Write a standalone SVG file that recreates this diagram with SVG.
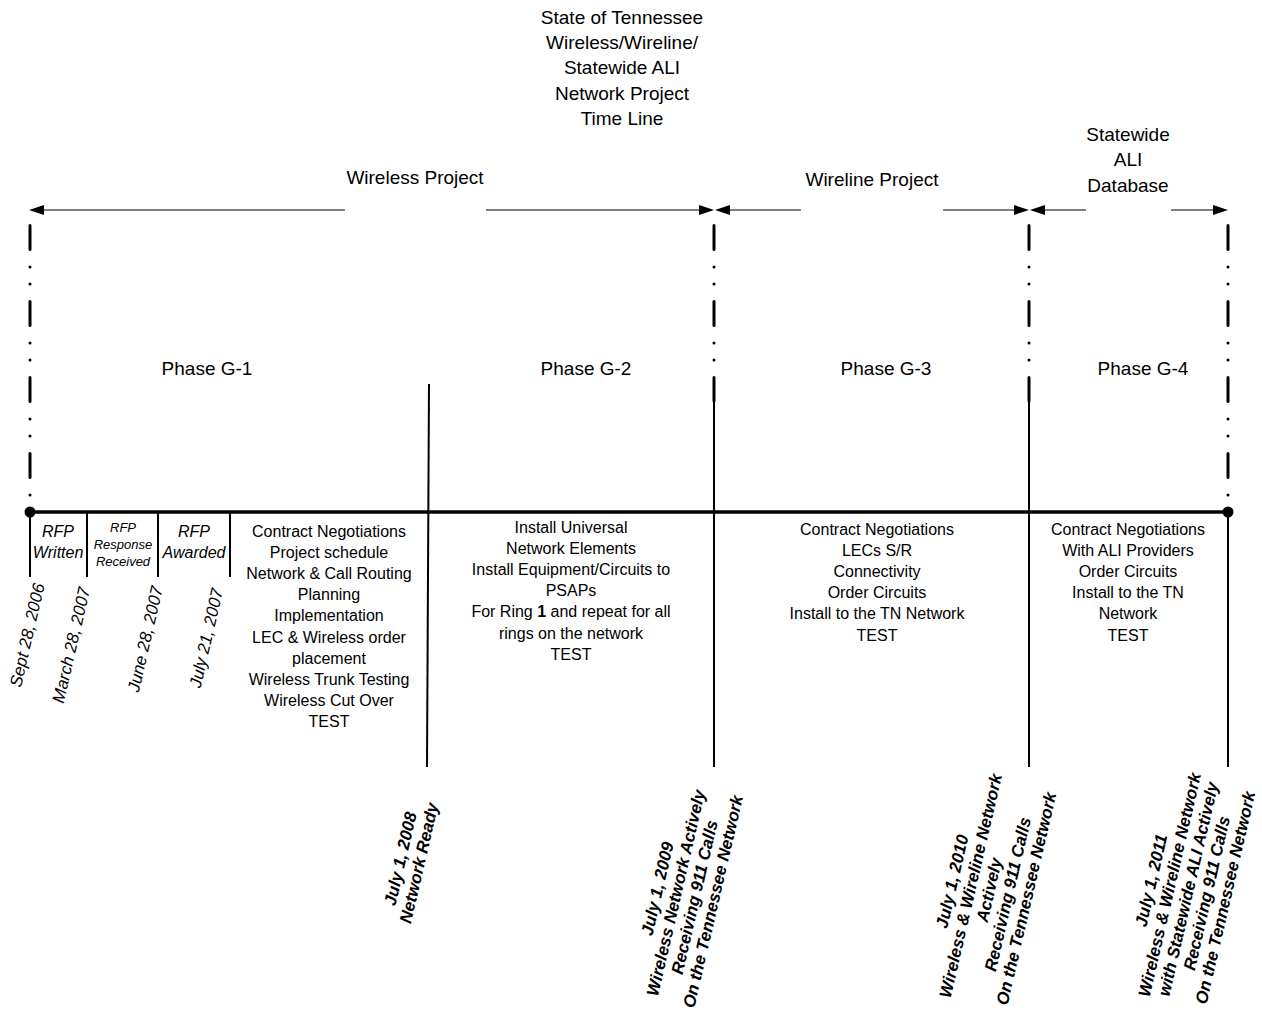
<svg xmlns="http://www.w3.org/2000/svg" width="1262" height="1015" viewBox="0 0 1262 1015">
<style>
text{font-family:"Liberation Sans",Arial,sans-serif;fill:#000}
.t19{font-size:19px;text-anchor:middle}
.t16{font-size:16px;text-anchor:middle}
.it{font-style:italic}
.dt{font-style:italic;font-size:17px;text-anchor:middle}
.bi{font-style:italic;font-weight:bold;font-size:17px;text-anchor:middle}
.dd{stroke:#000;stroke-width:3;stroke-linecap:round;fill:none;stroke-dasharray:24 17.5 0 17 0 17.5}
.sl{stroke:#000;stroke-width:2;fill:none}
.ar{stroke:#000;stroke-width:1;fill:none}
.ah{fill:#000}
</style>
<rect width="1262" height="1015" fill="#fff"/>
<g id="title"><text class="t19" x="622" y="24">State of Tennessee<tspan x="622" dy="25.2">Wireless/Wireline/</tspan><tspan x="622" dy="25.2">Statewide ALI</tspan><tspan x="622" dy="25.2">Network Project</tspan><tspan x="622" dy="25.2">Time Line</tspan></text></g>
<g id="headers">
<text class="t19" x="415" y="184">Wireless Project</text>
<text class="t19" x="872" y="186">Wireline Project</text>
<text class="t19" x="1128" y="141">Statewide<tspan x="1128" dy="25.3">ALI</tspan><tspan x="1128" dy="25.3">Database</tspan></text>
</g>
<g id="connectors">
<line class="ar" x1="44" y1="210" x2="345" y2="210"/><polygon class="ah" points="29,210 44,205 44,215"/>
<line class="ar" x1="486" y1="210" x2="699" y2="210"/><polygon class="ah" points="714,210 699,205 699,215"/>
<line class="ar" x1="730" y1="210" x2="801" y2="210"/><polygon class="ah" points="715,210 730,205 730,215"/>
<line class="ar" x1="943" y1="210" x2="1014" y2="210"/><polygon class="ah" points="1029,210 1014,205 1014,215"/>
<line class="ar" x1="1045" y1="210" x2="1086" y2="210"/><polygon class="ah" points="1030,210 1045,205 1045,215"/>
<line class="ar" x1="1171" y1="210" x2="1213" y2="210"/><polygon class="ah" points="1228,210 1213,205 1213,215"/>
<path class="dd" d="M30,225.5V505"/>
<path class="dd" d="M1228,225.5V505"/>
<path class="dd" d="M714,225.5V401"/>
<path class="dd" d="M1029,225.5V401"/>
<path class="sl" d="M714,385V767"/>
<path class="sl" d="M1029,385V767"/>
<path class="sl" d="M1228,512V767"/>
<path class="sl" d="M429,384L427,767"/>
<line x1="30" y1="512" x2="1228" y2="512" stroke="#000" stroke-width="3.5"/>
<circle cx="30" cy="512" r="5.5"/>
<circle cx="1228" cy="512" r="5.5"/>
<path class="sl" d="M30,512V577M87,512V577M158,512V577M230,512V577"/>
</g>
<g id="phases">
<text class="t19" x="207" y="375">Phase G-1</text>
<text class="t19" x="586" y="375">Phase G-2</text>
<text class="t19" x="886" y="375">Phase G-3</text>
<text class="t19" x="1143" y="375">Phase G-4</text>
</g>
<g id="rfp">
<text class="t16 it" x="58" y="537">RFP<tspan x="58" dy="21">Written</tspan></text>
<text class="it" style="font-size:13px;text-anchor:middle" x="123" y="532">RFP<tspan x="123" dy="17">Response</tspan><tspan x="123" dy="17">Received</tspan></text>
<text class="t16 it" x="194" y="537">RFP<tspan x="194" dy="21">Awarded</tspan></text>
</g>
<g id="dates">
<text class="dt" transform="translate(27,635) rotate(-77)" y="6">Sept 28, 2006</text>
<text class="dt" transform="translate(71,645) rotate(-77)" y="6">March 28, 2007</text>
<text class="dt" transform="translate(145,639) rotate(-77)" y="6">June 28, 2007</text>
<text class="dt" transform="translate(206,638) rotate(-77)" y="6">July 21, 2007</text>
</g>
<g id="g1-tasks"><text class="t16" x="329" y="537">Contract Negotiations<tspan x="329" dy="21.1">Project schedule</tspan><tspan x="329" dy="21.1">Network &amp; Call Routing</tspan><tspan x="329" dy="21.1">Planning</tspan><tspan x="329" dy="21.1">Implementation</tspan><tspan x="329" dy="21.1">LEC &amp; Wireless order</tspan><tspan x="329" dy="21.1">placement</tspan><tspan x="329" dy="21.1">Wireless Trunk Testing</tspan><tspan x="329" dy="21.1">Wireless Cut Over</tspan><tspan x="329" dy="21.1">TEST</tspan></text></g>
<g id="g2-tasks"><text class="t16" x="571" y="533">Install Universal<tspan x="571" dy="21.1">Network Elements</tspan><tspan x="571" dy="21.1">Install Equipment/Circuits to</tspan><tspan x="571" dy="21.1">PSAPs</tspan><tspan x="571" dy="21.1">For Ring <tspan font-weight="bold">1</tspan> and repeat for all</tspan><tspan x="571" dy="21.1">rings on the network</tspan><tspan x="571" dy="21.1">TEST</tspan></text></g>
<g id="g3-tasks"><text class="t16" x="877" y="535">Contract Negotiations<tspan x="877" dy="21.1">LECs S/R</tspan><tspan x="877" dy="21.1">Connectivity</tspan><tspan x="877" dy="21.1">Order Circuits</tspan><tspan x="877" dy="21.1">Install to the TN Network</tspan><tspan x="877" dy="21.1">TEST</tspan></text></g>
<g id="g4-tasks"><text class="t16" x="1128" y="535">Contract Negotiations<tspan x="1128" dy="21.1">With ALI Providers</tspan><tspan x="1128" dy="21.1">Order Circuits</tspan><tspan x="1128" dy="21.1">Install to the TN</tspan><tspan x="1128" dy="21.1">Network</tspan><tspan x="1128" dy="21.1">TEST</tspan></text></g>
<g id="m2008"><text class="bi" transform="translate(410,861) rotate(-77)" y="-4">July 1, 2008<tspan x="0" dy="19">Network Ready</tspan></text></g>
<g id="m2009"><text class="bi" transform="translate(685,895) rotate(-77)" y="-22.5">July 1, 2009<tspan x="0" dy="19">Wireless Network Actively</tspan><tspan x="0" dy="19">Receiving 911 Calls</tspan><tspan x="0" dy="19">On the Tennessee Network</tspan></text></g>
<g id="m2010"><text class="bi" transform="translate(989,890) rotate(-77)" y="-32">July 1, 2010<tspan x="0" dy="19">Wireless &amp; Wireline Network</tspan><tspan x="0" dy="19">Actively</tspan><tspan x="0" dy="19">Receiving 911 Calls</tspan><tspan x="0" dy="19">On the Tennessee Network</tspan></text></g>
<g id="m2011"><text class="bi" transform="translate(1188,889) rotate(-77)" y="-32">July 1, 2011<tspan x="0" dy="19">Wireless &amp; Wireline Network</tspan><tspan x="0" dy="19">with Statewide ALI Actively</tspan><tspan x="0" dy="19">Receiving 911 Calls</tspan><tspan x="0" dy="19">On the Tennessee Network</tspan></text></g>
</svg>
